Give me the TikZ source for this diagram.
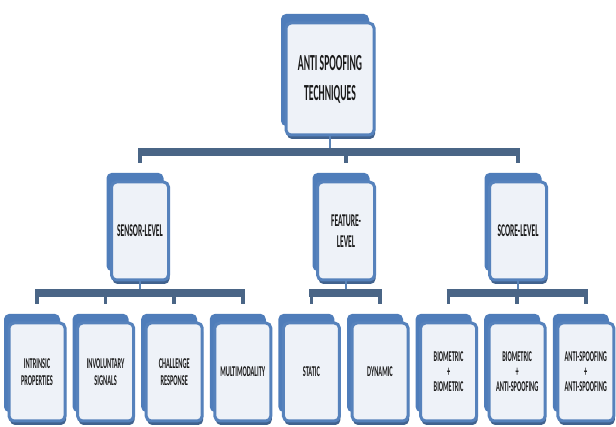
\documentclass[tikz,border=0pt]{standalone}
\usepackage{fontspec}
\newfontfamily\boxfont{Carlito}[FakeStretch=0.42]
\usetikzlibrary{shadows,positioning}
\definecolor{backblue}{HTML}{4F7DBA}
\definecolor{edgeblue}{HTML}{5682BC}
\definecolor{darkedge}{HTML}{41628E}
\definecolor{paper}{HTML}{EEF2F8}
\definecolor{barblue}{HTML}{4A6586}
\definecolor{linkblue}{HTML}{5A83B6}

\begin{document}
\begin{tikzpicture}[x=1pt,y=-1pt,
  techbox/.style={draw=edgeblue,line width=3pt,fill=paper,rounded corners=5pt,
    align=center,text=black!90,inner sep=0pt,
    general shadow={fill=backblue,shadow xshift=-5pt,shadow yshift=9pt},
    general shadow={fill=darkedge,shadow xshift=1pt,shadow yshift=-4pt}},
  rootbox/.style={techbox,minimum width=88pt,minimum height=112pt,
    font=\boxfont\bfseries\fontsize{23}{27}\selectfont},
  midbox/.style={techbox,minimum width=57pt,minimum height=98pt,
    font=\boxfont\bfseries\fontsize{18}{21}\selectfont},
  leafbox/.style={techbox,minimum width=56pt,minimum height=98pt,
    font=\boxfont\bfseries\fontsize{15}{15}\selectfont},
  trunk/.style={draw=barblue,line width=7.5pt},
  stub/.style={draw=barblue,line width=3.5pt},
  link/.style={draw=linkblue,line width=2.5pt}]
  \useasboundingbox (0,0) rectangle (616,427);

  \node[rootbox] (root) at (330,79) {ANTI SPOOFING\\[3pt]TECHNIQUES};

  \node[midbox] (sensor) at (140,231) {SENSOR-LEVEL};
  \node[midbox] (feature) at (346,231) {FEATURE-\\LEVEL};
  \node[midbox] (score) at (518,231) {SCORE-LEVEL};

  \foreach \i/\name/\txt in {0/intrinsic/{INTRINSIC\\[2pt]PROPERTIES},1/involuntary/{INVOLUNTARY\\[2pt]SIGNALS},
      2/challenge/{CHALLENGE\\[2pt]RESPONSE},3/multimodality/{MULTIMODALITY},4/static/{STATIC},5/dynamic/{DYNAMIC},
      6/biobio/{BIOMETRIC\\+\\BIOMETRIC},7/bioanti/{BIOMETRIC\\+\\ANTI-SPOOFING},8/antianti/{ANTI-SPOOFING\\+\\ANTI-SPOOFING}} {
    \node[leafbox] (\name) at ({37+68.6*\i},372) {\txt};
  }

  \coordinate (topbar) at (0,152);
  \coordinate (lowbar) at (0,293);

  \draw[link] (root.south) -- (root.south |- topbar);
  \draw[trunk] ([xshift=-2pt]sensor.north |- topbar) -- ([xshift=2pt]score.north |- topbar);
  \foreach \c in {sensor,feature,score} { \draw[stub] (\c.north |- topbar) -- ++(0,11); }

  \foreach \p/\first/\last in {sensor/intrinsic/multimodality,feature/static/dynamic,score/biobio/antianti} {
    \draw[link] (\p.south) -- (\p.south |- lowbar);
    \draw[trunk] ([xshift=-2pt]\first.north |- lowbar) -- ([xshift=2pt]\last.north |- lowbar);
  }
  \foreach \c in {intrinsic,involuntary,challenge,multimodality,static,dynamic,biobio,bioanti,antianti} {
    \draw[stub] (\c.north |- lowbar) -- ++(0,11);
  }
\end{tikzpicture}
\end{document}
